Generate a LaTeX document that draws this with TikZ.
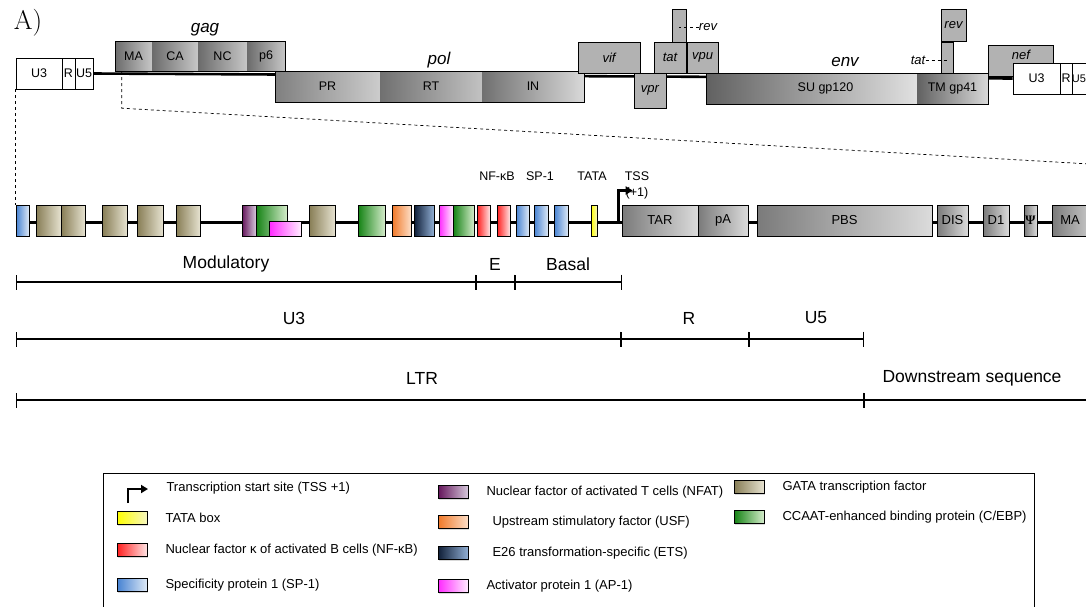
\documentclass[tikz,border=0pt]{standalone}
\usepackage{fontspec}
\setsansfont{Liberation Sans}
\newfontfamily\psifont{Liberation Serif}
\usetikzlibrary{arrows.meta,shadows}
\pgfdeclarelayer{bg}
\pgfsetlayers{bg,main}

\definecolor{gataL}{RGB}{135,125,85}
\definecolor{gataR}{RGB}{230,226,208}
\definecolor{cebpL}{RGB}{20,130,20}
\definecolor{cebpR}{RGB}{212,236,202}
\definecolor{nfatL}{RGB}{100,20,90}
\definecolor{nfatR}{RGB}{214,200,220}
\definecolor{ap1L}{RGB}{255,40,255}
\definecolor{ap1R}{RGB}{255,236,255}
\definecolor{usfL}{RGB}{240,120,40}
\definecolor{usfR}{RGB}{253,222,198}
\definecolor{etsL}{RGB}{15,30,55}
\definecolor{etsR}{RGB}{145,175,212}
\definecolor{nfkbL}{RGB}{255,30,30}
\definecolor{nfkbR}{RGB}{255,228,228}
\definecolor{sp1L}{RGB}{70,130,210}
\definecolor{sp1R}{RGB}{222,233,246}
\definecolor{tataL}{RGB}{255,255,0}
\definecolor{tataR}{RGB}{246,246,192}

% box from x1 to x2 and y1 to y2 (pixel grid, y downwards)
\newcommand\boxat[8][]{%
  \node[#2,#1,minimum width={((#5)-(#4))*1pt},minimum height={((#7)-(#6))*1pt}]
    (#3) at ({((#4)+(#5))/2},{((#6)+(#7))/2}) {#8};}
% legend entry: name, style, x, y, text
\newcommand\legitem[5]{%
  \boxat{#2}{#1}{#3}{#3+30}{#4-6.5}{#4+6.5}{}%
  \node[legtext,anchor=west] (#1t) at (#3+45,#4) {#5};}

\tikzset{
  every node/.style={font=\sffamily\fontsize{12.5}{14}\selectfont},
  blk/.style={draw,line width=0.6pt,inner sep=0pt},
  ltrbox/.style={blk,fill=white},
  orf/.style={blk,fill=black!30,font=\sffamily\itshape\fontsize{13}{15}\selectfont},
  seg/.style={inner sep=0pt,left color=black!58,right color=black!22},
  frame/.style={blk},
  gene/.style={font=\sffamily\itshape\fontsize{17}{19}\selectfont},
  spine/.style={line width=2.6pt},
  leader/.style={dashed,line width=0.7pt},
  tf/.style={blk,drop shadow={shadow xshift=1pt,shadow yshift=-1.3pt,opacity=0.3}},
  gata/.style={tf,left color=gataL,right color=gataR},
  cebp/.style={tf,left color=cebpL,right color=cebpR},
  nfat/.style={tf,left color=nfatL,right color=nfatR},
  apone/.style={tf,left color=ap1L,right color=ap1R},
  usf/.style={tf,left color=usfL,right color=usfR},
  ets/.style={tf,left color=etsL,right color=etsR},
  nfkb/.style={tf,left color=nfkbL,right color=nfkbR},
  spone/.style={tf,left color=sp1L,right color=sp1R},
  tata/.style={tf,left color=tataL,right color=tataR},
  seqbox/.style={tf,left color=black!52,right color=black!14,font=\sffamily\fontsize{13}{15}\selectfont},
  tss/.style={line width=2.6pt,-{Triangle[length=7pt,width=8pt]}},
  scalebar/.style={line width=1.2pt,{Bar[width=15pt]}-{Bar[width=15pt]}},
  barlab/.style={font=\sffamily\fontsize{17.5}{19}\selectfont},
  legtext/.style={font=\sffamily\fontsize{13}{15}\selectfont},
}

\begin{document}
\begin{tikzpicture}[x=1pt,y=-1pt]
\useasboundingbox (0,0) rectangle (1086,606);

\node[font=\rmfamily\fontsize{27}{29}\selectfont] (panel) at (28,23) {A)};

% proviral genome
\boxat{ltrbox}{lU3}{16}{62}{58}{89}{U3}
\boxat{ltrbox}{lR}{62}{75}{58}{89}{R}
\boxat{ltrbox}{lU5}{75}{93}{58}{89}{U5}

\boxat{seg}{gMA}{115}{152}{41}{71}{MA}
\boxat{seg}{gCA}{152}{198}{41}{71}{CA}
\boxat{seg}{gNC}{198}{247}{41}{71}{NC}
\boxat{seg}{gp6}{247}{285}{41}{71}{p6}
\boxat{frame}{gag}{115}{285}{41}{71}{}
\node[gene] (gagt) at (205,30) {gag};

\boxat[left color=black!50,right color=black!20]{seg}{pPR}{275}{380}{71}{102}{PR}
\boxat[left color=black!56,right color=black!24]{seg}{pRT}{380}{482}{71}{102}{RT}
\boxat[left color=black!56,right color=black!15]{seg}{pIN}{482}{584}{71}{102}{IN}
\boxat{frame}{pol}{275}{584}{71}{102}{}
\node[gene] (polt) at (439,60) {pol};

\boxat{orf}{vif}{578}{640}{42}{73}{vif}
\boxat{orf}{vpr}{634}{666}{73}{108}{vpr}
\boxat{orf}{revA}{672}{686}{9}{42}{}
\boxat{orf}{tatA}{654}{686}{42}{73}{tat}
\boxat{orf}{vpu}{687}{718}{42}{73}{vpu}
\node[orf,draw=none,fill=none] (revAt) at (708,27) {rev};

\boxat[left color=black!62,right color=black!12]{seg}{eSU}{706}{917}{73}{104}{\hspace*{28pt}SU gp120}
\boxat[left color=black!62,right color=black!15]{seg}{eTM}{917}{988}{73}{104}{TM gp41}
\boxat{frame}{env}{706}{988}{73}{104}{}
\node[gene] (envt) at (845,62) {env};

\boxat{orf}{tatB}{941}{953}{42}{73}{}
\boxat{orf}{revB}{941}{966}{9}{41}{rev}
\node[orf,draw=none,fill=none] (tatBt) at (918,60) {tat};

\boxat{orf}{nef}{988}{1053}{45}{76}{}
\node[orf,draw=none,fill=none] (neft) at (1021,55) {nef};
\boxat{ltrbox}{rU3}{1013}{1060}{63}{94}{U3}
\boxat{ltrbox}{rR}{1060}{1072}{63}{94}{R}
\boxat[font=\sffamily\fontsize{11}{13}\selectfont]{ltrbox}{rU5}{1072}{1086}{63}{94}{U5}

% LTR and leader region
\boxat{spone}{m1}{16}{29}{205}{236}{}
\boxat{gata}{m2}{36}{61}{205}{236}{}
\boxat{gata}{m3}{61}{85}{205}{236}{}
\boxat{gata}{m4}{102}{127}{205}{236}{}
\boxat{gata}{m5}{137}{163}{205}{236}{}
\boxat{gata}{m6}{176}{200}{205}{236}{}
\boxat{nfat}{m7}{242}{256}{205}{236}{}
\boxat{cebp}{m8}{256}{287}{205}{236}{}
\boxat{apone}{m9}{269}{301}{221}{236}{}
\boxat{gata}{m10}{309}{335}{205}{236}{}
\boxat{cebp}{m11}{358}{385}{205}{236}{}
\boxat{usf}{m12}{392}{411}{205}{236}{}
\boxat{ets}{m13}{414}{434}{205}{236}{}
\boxat{apone}{m14}{439}{453}{205}{236}{}
\boxat{cebp}{m15}{453}{474}{205}{236}{}
\boxat{nfkb}{m16}{477}{490}{205}{236}{}
\boxat{nfkb}{m17}{497}{510}{205}{236}{}
\boxat{spone}{m18}{516}{529}{205}{236}{}
\boxat{spone}{m19}{534}{548}{205}{236}{}
\boxat{spone}{m20}{554}{568}{205}{236}{}
\boxat{tata}{m21}{591}{597}{205}{236}{}
\boxat{seqbox}{TAR}{622}{698}{205}{236}{TAR}
\boxat{seqbox}{pA}{698}{748}{205}{236}{pA}
\boxat{seqbox}{PBS}{757}{932}{205}{236}{PBS}
\boxat{seqbox}{DIS}{937}{968}{205}{236}{DIS}
\boxat{seqbox}{Done}{983}{1009}{205}{236}{D1}
\boxat{seqbox}{Psi}{1024}{1037}{205}{236}{{\psifont\bfseries Ψ}}
\boxat{seqbox}{mMA}{1052}{1100}{205}{236}{\hspace*{-12pt}MA}

\node (nfkbt) at (497,176) {NF-κB};
\node (sp1t) at (540,176) {SP-1};
\node (tatat) at (592,176) {TATA};
\node (tsst) at (637,176) {TSS};
\node (tsspos) at (637,193) {(+1)};
\draw[tss] ([xshift=-3pt,yshift=-2pt]TAR.west) -- ++(0,32pt) -- ++(14pt,0);

\begin{pgfonlayer}{bg}
\draw[spine] (lU5.east) -- (rU3.west);
\draw[spine] ([yshift=-2pt]m1.west) -- ([yshift=-2pt]mMA.center);
\end{pgfonlayer}

\coordinate (cut) at (1090,164);
\draw[leader] (lU3.south west) -- (m1.north west);
\draw[leader] ([xshift=7pt]gMA.south west) -- ++(0,-37pt) -- (cut);
\draw[leader] (revAt.west) -- (revAt.west -| revA.center);
\draw[leader] (tatBt.east) -- (tatBt.east -| tatB.center);

% scale bars
\coordinate (s1a) at (16,282);
\coordinate (s1b) at (476,282);
\coordinate (s1c) at (515,282);
\coordinate (s1d) at (622,282);
\coordinate (s2a) at (16,339);
\coordinate (s2b) at (621,339);
\coordinate (s2c) at (749,339);
\coordinate (s2d) at (864,339);
\coordinate (s3a) at (16,400);
\coordinate (s3b) at (864,400);
\coordinate (s3c) at (1090,400);
\draw[scalebar] (s1a) -- (s1b);
\draw[scalebar] (s1b) -- (s1c);
\draw[scalebar] (s1c) -- (s1d);
\draw[scalebar] (s2a) -- (s2b);
\draw[scalebar] (s2b) -- (s2c);
\draw[scalebar] (s2c) -- (s2d);
\draw[scalebar] (s3a) -- (s3b);
\draw[scalebar,-] (s3b) -- (s3c);
\draw[line width=1.2pt,{Bar[width=15pt]}-] (s3b) -- ++(1pt,0);
\node[barlab] (modt) at (226,264) {Modulatory};
\node[barlab] (enht) at (495,264) {E};
\node[barlab] (bast) at (568,264) {Basal};
\node[barlab] (u3t) at (294,318) {U3};
\node[barlab] (rt) at (689,318) {R};
\node[barlab] (u5t) at (816,318) {U5};
\node[barlab] (ltrt) at (422,378) {LTR};
\node[barlab] (downt) at (972,378) {Downstream sequence};

% legend
\boxat{frame}{legend}{103}{1034}{473}{630}{}
\coordinate (lgA) at (128,503);
\draw[tss] (lgA) -- ++(0,14pt) -- ++(20pt,0);
\node[legtext,anchor=west] (lgAt) at (163,488) {Transcription start site (TSS +1)};
\legitem{lgB}{tata}{117}{518}{TATA box}
\legitem{lgC}{nfkb}{117}{550}{Nuclear factor κ of activated B cells (NF-κB)}
\legitem{lgD}{spone}{117}{585}{Specificity protein 1 (SP-1)}
\legitem{lgE}{nfat}{438}{492}{Nuclear factor of activated T cells (NFAT)}
\legitem{lgF}{usf}{438}{522}{\hspace*{6pt}Upstream stimulatory factor (USF)}
\legitem{lgG}{ets}{438}{553}{\hspace*{6pt}E26 transformation-specific (ETS)}
\legitem{lgH}{apone}{438}{586}{Activator protein 1 (AP-1)}
\legitem{lgI}{gata}{734}{487}{GATA transcription factor}
\legitem{lgJ}{cebp}{734}{517}{CCAAT-enhanced binding protein (C/EBP)}
\end{tikzpicture}
\end{document}
